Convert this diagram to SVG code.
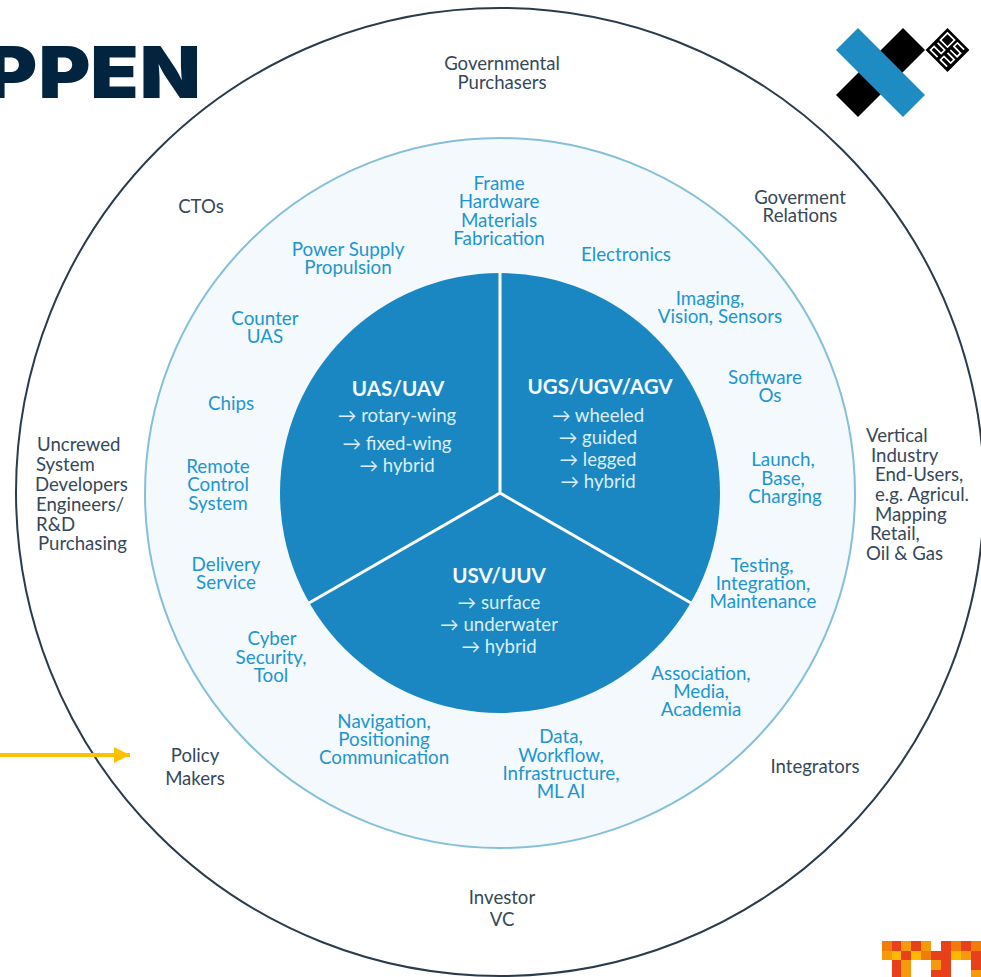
<svg xmlns="http://www.w3.org/2000/svg" width="981" height="977" viewBox="0 0 981 977">
<style>
text{font-family:"Lato","Open Sans",sans-serif;text-anchor:middle}
.o text{font-size:18.6px;fill:#36485a}
.o text.l{text-anchor:start}
.m text{font-size:18.8px;fill:#1e95cf}
.c text{font-size:18.6px;fill:#dbeef8}
.c text.h{font-size:20.6px;font-weight:700;fill:#f4fafd}
.s{stroke:#fff;stroke-width:3;fill:none}
.w{fill:none;stroke:#fff;stroke-width:1.7}
</style>
<defs><marker id="a" markerUnits="userSpaceOnUse" markerWidth="16" markerHeight="16" refX="16" refY="8" orient="auto"><path d="M0 0L16 8L0 16Z" fill="#ffc000"/></marker></defs>
<rect width="981" height="977" fill="#fff"/>
<g id="title"><text transform="translate(0 98) scale(1.1 1)" x="-13.5 35 82 127" y="0" style="font-family:Inter,sans-serif;font-size:72px;font-weight:900;text-anchor:start;fill:#02243f">PPEN</text></g>
<g id="rings">
<circle cx="500" cy="492" r="484" fill="#fff" stroke="#2a3b4c" stroke-width="2"/>
<circle cx="500" cy="493" r="355" fill="#f3f9fc" stroke="#86bfd9" stroke-width="2"/>
<circle cx="500" cy="493" r="220" fill="#1a87c2"/>
</g>
<g id="connectors">
<path class="s" d="M500 273V493M500 493L691 603M500 493L309 603"/>
<path d="M0 755H130" stroke="#ffc000" stroke-width="4" fill="none" marker-end="url(#a)"/>
</g>
<g id="logo-x">
<path d="M903 28L925 50L858 117L836 95Z" fill="#000"/>
<path d="M858 28L925 95L903 117L836 50Z" fill="#1f8bc3"/>
<g transform="translate(947.5 50) rotate(45)">
<rect x="-15.5" y="-15.5" width="31" height="31" fill="#000"/>
<rect x="-12" y="-12" width="10" height="10" class="w"/>
<path class="w" d="M11.5 -12H2V-7H11.5V-2H2"/>
<path class="w" d="M2 2H11.5V7H2V12H11.5"/>
<path class="w" d="M-12 2H-2V7H-12V12H-2"/>
</g>
</g>
<g id="logo-pixels">
<rect x="882" y="941" width="10" height="10" fill="#f07c0c"/><rect x="892" y="941" width="9" height="10" fill="#e8401a"/><rect x="901" y="941" width="10" height="10" fill="#f59a0a"/><rect x="911" y="941" width="10" height="10" fill="#e8401a"/><rect x="921" y="941" width="10" height="10" fill="#f59a0a"/>
<rect x="941" y="941" width="10" height="10" fill="#e8401a"/><rect x="951" y="941" width="10" height="10" fill="#f07c0c"/><rect x="961" y="941" width="10" height="10" fill="#e8401a"/><rect x="971" y="941" width="10" height="10" fill="#f07c0c"/>
<rect x="882" y="951" width="10" height="9" fill="#f59a0a"/><rect x="892" y="951" width="9" height="9" fill="#fdb900"/><rect x="901" y="951" width="10" height="9" fill="#e8401a"/><rect x="911" y="951" width="10" height="9" fill="#fdb900"/><rect x="921" y="951" width="10" height="9" fill="#f07c0c"/><rect x="931" y="951" width="20" height="9" fill="#e8401a"/><rect x="951" y="951" width="10" height="9" fill="#fdb900"/><rect x="961" y="951" width="10" height="9" fill="#f59a0a"/><rect x="971" y="951" width="10" height="9" fill="#e8401a"/>
<rect x="892" y="960" width="9" height="17" fill="#e8401a"/><rect x="901" y="960" width="10" height="17" fill="#f59a0a"/><rect x="931" y="960" width="10" height="10" fill="#f59a0a"/><rect x="941" y="960" width="10" height="17" fill="#e8401a"/><rect x="931" y="970" width="10" height="7" fill="#e8401a"/><rect x="971" y="960" width="10" height="10" fill="#e8401a"/><rect x="971" y="970" width="10" height="7" fill="#f59a0a"/>
</g>
<g class="c">
<g id="uas"><text class="h" x="398" y="396">UAS/UAV</text><text x="397" y="422">→ rotary-wing</text><text x="397" y="450">→ fixed-wing</text><text x="397" y="472">→ hybrid</text></g>
<g id="ugs"><text class="h" x="600" y="394">UGS/UGV/AGV</text><text x="598" y="422">→ wheeled</text><text x="598" y="444">→ guided</text><text x="598" y="466">→ legged</text><text x="598" y="488">→ hybrid</text></g>
<g id="usv"><text class="h" x="499" y="583">USV/UUV</text><text x="499" y="609">→ surface</text><text x="499" y="631">→ underwater</text><text x="499" y="653">→ hybrid</text></g>
</g>
<g class="m" transform="translate(0 .5)">
<g id="frame"><text x="499" y="189">Frame</text><text x="499" y="207">Hardware</text><text x="499" y="226">Materials</text><text x="499" y="244">Fabrication</text></g>
<g id="electronics"><text x="626" y="260">Electronics</text></g>
<g id="imaging"><text x="710" y="304">Imaging,</text><text x="720" y="322">Vision, Sensors</text></g>
<g id="software"><text x="765" y="383">Software</text><text x="770" y="401">Os</text></g>
<g id="launch"><text x="783" y="465">Launch,</text><text x="783" y="484">Base,</text><text x="785" y="502">Charging</text></g>
<g id="testing"><text x="762" y="571">Testing,</text><text x="763" y="589">Integration,</text><text x="763" y="607">Maintenance</text></g>
<g id="association"><text x="701" y="679">Association,</text><text x="701" y="697">Media,</text><text x="701" y="715">Academia</text></g>
<g id="data"><text x="561" y="742">Data,</text><text x="561" y="761">Workflow,</text><text x="561" y="779">Infrastructure,</text><text x="561" y="797">ML AI</text></g>
<g id="navigation"><text x="384" y="727">Navigation,</text><text x="384" y="745">Positioning</text><text x="384" y="763">Communication</text></g>
<g id="cyber"><text x="272" y="644">Cyber</text><text x="271" y="663">Security,</text><text x="271" y="681">Tool</text></g>
<g id="delivery"><text x="226" y="570">Delivery</text><text x="226" y="588">Service</text></g>
<g id="remote"><text x="218" y="472">Remote</text><text x="218" y="490">Control</text><text x="218" y="509">System</text></g>
<g id="chips"><text x="231" y="409">Chips</text></g>
<g id="counter"><text x="265" y="324">Counter</text><text x="265" y="342">UAS</text></g>
<g id="power"><text x="348" y="255">Power Supply</text><text x="348" y="273">Propulsion</text></g>
</g>
<g class="o" transform="translate(0 .5)">
<g id="gov"><text x="502" y="69">Governmental</text><text x="502" y="88">Purchasers</text></g>
<g id="relations"><text x="800" y="203">Goverment</text><text x="800" y="221">Relations</text></g>
<g id="ctos"><text x="201" y="212">CTOs</text></g>
<g id="vertical"><text class="l" x="866" y="441">Vertical</text><text class="l" x="871" y="461">Industry</text><text class="l" x="875" y="480">End-Users,</text><text class="l" x="875" y="500">e.g. Agricul.</text><text class="l" x="875" y="520">Mapping</text><text class="l" x="870" y="539">Retail,</text><text class="l" x="866" y="559">Oil &amp; Gas</text></g>
<g id="integrators"><text x="815" y="772">Integrators</text></g>
<g id="investor"><text x="502" y="903">Investor</text><text x="502" y="925">VC</text></g>
<g id="policy"><text x="195" y="761">Policy</text><text x="195" y="784">Makers</text></g>
<g id="developers"><text class="l" x="37" y="450">Uncrewed</text><text class="l" x="36" y="470">System</text><text class="l" x="35" y="490">Developers</text><text class="l" x="36" y="510">Engineers/</text><text class="l" x="36" y="530">R&amp;D</text><text class="l" x="38" y="549">Purchasing</text></g>
</g>
</svg>
